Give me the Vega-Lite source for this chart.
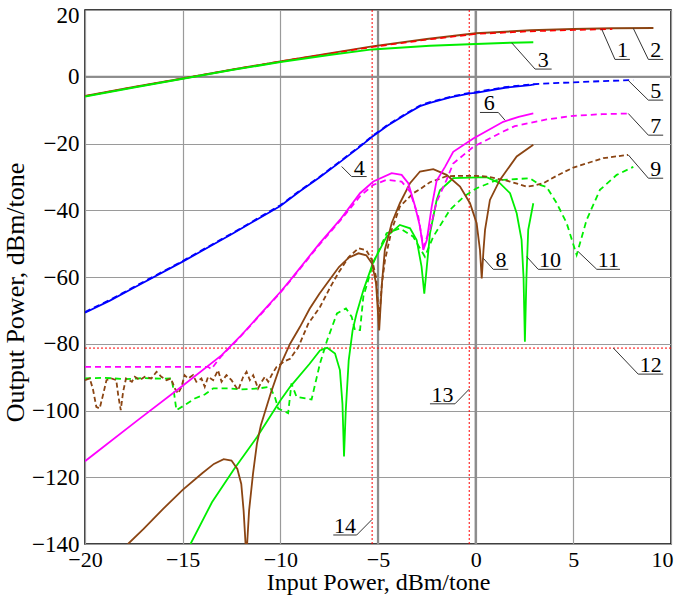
{
"$schema": "https://vega.github.io/schema/vega-lite/v6.json",
"width": 586, "height": 534,
"autosize": "none",
"padding": {"left": 85, "top": 10, "right": 5, "bottom": 53},
"background": "white",
"config": {
  "font": "Liberation Serif",
  "view": {"stroke": "#000", "strokeWidth": 1.5},
  "axis": {"grid": true, "gridColor": "#9a9a9a", "gridWidth": 1.2, "ticks": false, "domain": false, "labelFlush": false, "labelOverlap": false,
    "labelFont": "Liberation Serif", "labelFontSize": 23, "labelColor": "#000",
    "titleFont": "Liberation Serif", "titleFontSize": 24, "titleFontWeight": "normal", "titleColor": "#000"},
  "text": {"font": "Liberation Serif"}
},
"datasets": {
  "curves": [
    {"s":"1","x":-20,"y":-5.8},{"s":"1","x":-17.5,"y":-3.1},{"s":"1","x":-15,"y":-0.5},{"s":"1","x":-12.5,"y":2.1},{"s":"1","x":-10,"y":4.6},{"s":"1","x":-7.5,"y":6.9},{"s":"1","x":-5.3,"y":8.9},{"s":"1","x":-2.5,"y":11.1},{"s":"1","x":0,"y":12.8},{"s":"1","x":2.8,"y":13.6},{"s":"1","x":5,"y":14.0},{"s":"1","x":7,"y":14.3},
    {"s":"2","x":-20,"y":-5.8},{"s":"2","x":-17.5,"y":-3.1},{"s":"2","x":-15,"y":-0.5},{"s":"2","x":-12.5,"y":2.1},{"s":"2","x":-10,"y":4.6},{"s":"2","x":-7.5,"y":7.0},{"s":"2","x":-5.3,"y":9.1},{"s":"2","x":-2.5,"y":11.3},{"s":"2","x":0,"y":13.0},{"s":"2","x":2.8,"y":13.9},{"s":"2","x":5,"y":14.3},{"s":"2","x":7,"y":14.5},{"s":"2","x":9.1,"y":14.6},
    {"s":"3","x":-20,"y":-5.9},{"s":"3","x":-17.5,"y":-3.2},{"s":"3","x":-15,"y":-0.6},{"s":"3","x":-12.5,"y":2.0},{"s":"3","x":-10,"y":4.4},{"s":"3","x":-7.5,"y":6.5},{"s":"3","x":-5.3,"y":8.2},{"s":"3","x":-2.34,"y":9.3},{"s":"3","x":0,"y":9.8},{"s":"3","x":1.84,"y":10.2},{"s":"3","x":2.95,"y":10.3},
    {"s":"4","x":-20,"y":-70.7},{"s":"4","x":-18.7,"y":-67},{"s":"4","x":-17.5,"y":-63.2},{"s":"4","x":-15,"y":-55.4},{"s":"4","x":-12.5,"y":-47.2},{"s":"4","x":-10,"y":-38.7},{"s":"4","x":-9,"y":-34.3},{"s":"4","x":-8,"y":-30.2},{"s":"4","x":-7,"y":-25.8},{"s":"4","x":-6,"y":-21.3},{"s":"4","x":-5.3,"y":-18},{"s":"4","x":-4.5,"y":-14.6},{"s":"4","x":-3.5,"y":-11},{"s":"4","x":-2.85,"y":-8.8},{"s":"4","x":-2.34,"y":-7.8},{"s":"4","x":-1.3,"y":-6.2},{"s":"4","x":-0.29,"y":-5.0},{"s":"4","x":0,"y":-4.8},{"s":"4","x":1.5,"y":-3.3},{"s":"4","x":2.8,"y":-2.5},{"s":"4","x":3,"y":-2.3},
    {"s":"5","x":-20,"y":-70.5},{"s":"5","x":-18.7,"y":-66.8},{"s":"5","x":-17.5,"y":-63},{"s":"5","x":-15,"y":-55.2},{"s":"5","x":-12.5,"y":-47},{"s":"5","x":-10,"y":-38.5},{"s":"5","x":-9,"y":-34.1},{"s":"5","x":-8,"y":-30},{"s":"5","x":-7,"y":-25.6},{"s":"5","x":-6,"y":-21.1},{"s":"5","x":-5.3,"y":-17.8},{"s":"5","x":-4.5,"y":-14.4},{"s":"5","x":-3.5,"y":-10.8},{"s":"5","x":-2.85,"y":-8.6},{"s":"5","x":-2.34,"y":-7.6},{"s":"5","x":-1.3,"y":-6.0},{"s":"5","x":-0.29,"y":-4.8},{"s":"5","x":0,"y":-4.6},{"s":"5","x":1.5,"y":-3.1},{"s":"5","x":2.8,"y":-2.3},{"s":"5","x":4,"y":-1.9},{"s":"5","x":5,"y":-1.7},{"s":"5","x":6.5,"y":-1.3},{"s":"5","x":8.07,"y":-1.0},
    {"s":"6","x":-20,"y":-115.2},{"s":"6","x":-17.28,"y":-102.8},{"s":"6","x":-15,"y":-92.6},{"s":"6","x":-13,"y":-83.4},{"s":"6","x":-12.07,"y":-77.9},{"s":"6","x":-11,"y":-71},{"s":"6","x":-10,"y":-64.5},{"s":"6","x":-9.5,"y":-61},{"s":"6","x":-8,"y":-50},{"s":"6","x":-6.95,"y":-42.9},{"s":"6","x":-5.92,"y":-34.9},{"s":"6","x":-5.24,"y":-31.4},{"s":"6","x":-4.3,"y":-28.9},{"s":"6","x":-3.79,"y":-29.4},{"s":"6","x":-3.45,"y":-31.9},{"s":"6","x":-3.1,"y":-38.9},{"s":"6","x":-2.85,"y":-44.9},{"s":"6","x":-2.68,"y":-51.9},{"s":"6","x":-2.5,"y":-48.9},{"s":"6","x":-2.25,"y":-38.9},{"s":"6","x":-2.0,"y":-31.2},{"s":"6","x":-1.57,"y":-27},{"s":"6","x":-1.15,"y":-22.5},{"s":"6","x":-0.12,"y":-18.5},{"s":"6","x":1.41,"y":-13.5},{"s":"6","x":2.2,"y":-12.0},{"s":"6","x":2.95,"y":-11.0},
    {"s":"7","x":-20,"y":-86.9},{"s":"7","x":-17,"y":-86.9},{"s":"7","x":-13.7,"y":-86.9},{"s":"7","x":-13.53,"y":-87.6},{"s":"7","x":-13.2,"y":-85},{"s":"7","x":-13,"y":-83.6},{"s":"7","x":-12.07,"y":-78},{"s":"7","x":-11,"y":-71.2},{"s":"7","x":-10,"y":-64.7},{"s":"7","x":-9.5,"y":-61.2},{"s":"7","x":-8,"y":-50.3},{"s":"7","x":-6.95,"y":-43.2},{"s":"7","x":-5.92,"y":-35.8},{"s":"7","x":-5.24,"y":-32.4},{"s":"7","x":-4.56,"y":-30.9},{"s":"7","x":-3.79,"y":-31.4},{"s":"7","x":-3.36,"y":-34.4},{"s":"7","x":-2.94,"y":-41.9},{"s":"7","x":-2.68,"y":-50.9},{"s":"7","x":-2.34,"y":-45.9},{"s":"7","x":-2.0,"y":-37.5},{"s":"7","x":-1.49,"y":-30.9},{"s":"7","x":-1.15,"y":-26.0},{"s":"7","x":-0.12,"y":-21.0},{"s":"7","x":1.41,"y":-16.4},{"s":"7","x":2.0,"y":-14.8},{"s":"7","x":3.63,"y":-12.8},{"s":"7","x":5.0,"y":-11.7},{"s":"7","x":6.5,"y":-11.2},{"s":"7","x":7.9,"y":-11.0},
    {"s":"8","x":-17.8,"y":-140},{"s":"8","x":-17,"y":-135.5},{"s":"8","x":-16,"y":-129.5},{"s":"8","x":-15,"y":-123.8},{"s":"8","x":-14,"y":-118.8},{"s":"8","x":-13.4,"y":-116},{"s":"8","x":-12.9,"y":-114.6},{"s":"8","x":-12.5,"y":-115},{"s":"8","x":-12.2,"y":-117.5},{"s":"8","x":-12.0,"y":-122},{"s":"8","x":-11.88,"y":-130},{"s":"8","x":-11.78,"y":-140},{"s":"8","x":-11.7,"y":-140},{"s":"8","x":-11.6,"y":-130},{"s":"8","x":-11.4,"y":-119},{"s":"8","x":-11.2,"y":-110},{"s":"8","x":-11.0,"y":-104.5},{"s":"8","x":-10.5,"y":-95},{"s":"8","x":-10,"y":-86.5},{"s":"8","x":-9.5,"y":-80},{"s":"8","x":-9,"y":-75},{"s":"8","x":-8.5,"y":-69.5},{"s":"8","x":-8,"y":-65},{"s":"8","x":-7.44,"y":-60.5},{"s":"8","x":-7,"y":-57},{"s":"8","x":-6.5,"y":-54.2},{"s":"8","x":-6,"y":-52.9},{"s":"8","x":-5.6,"y":-53.5},{"s":"8","x":-5.3,"y":-56},{"s":"8","x":-5.1,"y":-62},{"s":"8","x":-4.94,"y":-76},{"s":"8","x":-4.8,"y":-62},{"s":"8","x":-4.65,"y":-51.9},{"s":"8","x":-4.3,"y":-43.9},{"s":"8","x":-3.88,"y":-37.9},{"s":"8","x":-3.36,"y":-31.9},{"s":"8","x":-2.85,"y":-28.4},{"s":"8","x":-2.17,"y":-27.7},{"s":"8","x":-1.49,"y":-29.4},{"s":"8","x":-0.8,"y":-32.9},{"s":"8","x":-0.29,"y":-37.9},{"s":"8","x":0.05,"y":-43.9},{"s":"8","x":0.22,"y":-51.9},{"s":"8","x":0.31,"y":-60.4},{"s":"8","x":0.4,"y":-52},{"s":"8","x":0.48,"y":-45.9},{"s":"8","x":0.73,"y":-36.9},{"s":"8","x":1.24,"y":-30.9},{"s":"8","x":2.1,"y":-23.9},{"s":"8","x":2.95,"y":-20.4},
    {"s":"9","x":-20,"y":-90.9},{"s":"9","x":-19.76,"y":-90.4},{"s":"9","x":-19.6,"y":-93.4},{"s":"9","x":-19.42,"y":-98.9},{"s":"9","x":-19.25,"y":-99.4},{"s":"9","x":-19.08,"y":-95.4},{"s":"9","x":-18.9,"y":-90.9},{"s":"9","x":-18.65,"y":-90.4},{"s":"9","x":-18.4,"y":-90.9},{"s":"9","x":-18.3,"y":-95.4},{"s":"9","x":-18.17,"y":-99.9},{"s":"9","x":-18.05,"y":-94.4},{"s":"9","x":-17.9,"y":-90.4},{"s":"9","x":-17.6,"y":-91.4},{"s":"9","x":-17.45,"y":-89.9},{"s":"9","x":-17.2,"y":-90.9},{"s":"9","x":-16.94,"y":-89.9},{"s":"9","x":-16.6,"y":-90.4},{"s":"9","x":-16.34,"y":-88.4},{"s":"9","x":-16.09,"y":-89.9},{"s":"9","x":-15.83,"y":-90.9},{"s":"9","x":-15.6,"y":-90.4},{"s":"9","x":-15.4,"y":-93.4},{"s":"9","x":-15.23,"y":-94.9},{"s":"9","x":-15.06,"y":-92.9},{"s":"9","x":-14.9,"y":-89.4},{"s":"9","x":-14.72,"y":-90.4},{"s":"9","x":-14.47,"y":-89.4},{"s":"9","x":-14.3,"y":-91.4},{"s":"9","x":-14.04,"y":-90.4},{"s":"9","x":-13.87,"y":-92.9},{"s":"9","x":-13.7,"y":-89.9},{"s":"9","x":-13.44,"y":-90.9},{"s":"9","x":-13.19,"y":-87.9},{"s":"9","x":-13.01,"y":-91.4},{"s":"9","x":-12.76,"y":-89.4},{"s":"9","x":-12.5,"y":-90.9},{"s":"9","x":-12.33,"y":-92.4},{"s":"9","x":-12.16,"y":-93.9},{"s":"9","x":-11.9,"y":-89.9},{"s":"9","x":-11.73,"y":-88.4},{"s":"9","x":-11.56,"y":-90.9},{"s":"9","x":-11.39,"y":-89.4},{"s":"9","x":-11.14,"y":-93.4},{"s":"9","x":-10.96,"y":-91.4},{"s":"9","x":-10.79,"y":-89.9},{"s":"9","x":-10.62,"y":-91.4},{"s":"9","x":-10.45,"y":-89.4},{"s":"9","x":-10.2,"y":-87},{"s":"9","x":-9.77,"y":-85.2},{"s":"9","x":-9.5,"y":-84.5},{"s":"9","x":-9.08,"y":-81},{"s":"9","x":-8.57,"y":-74},{"s":"9","x":-7.97,"y":-69},{"s":"9","x":-7.44,"y":-63},{"s":"9","x":-7,"y":-58.5},{"s":"9","x":-6.5,"y":-54},{"s":"9","x":-6.0,"y":-51.4},{"s":"9","x":-5.6,"y":-52},{"s":"9","x":-5.3,"y":-55},{"s":"9","x":-5.1,"y":-60},{"s":"9","x":-4.94,"y":-73},{"s":"9","x":-4.8,"y":-62},{"s":"9","x":-4.64,"y":-54.9},{"s":"9","x":-4.3,"y":-45.9},{"s":"9","x":-3.88,"y":-38.9},{"s":"9","x":-3.2,"y":-34.9},{"s":"9","x":-2.85,"y":-33.7},{"s":"9","x":-2.34,"y":-31.6},{"s":"9","x":-2.0,"y":-30.9},{"s":"9","x":-1.49,"y":-29.8},{"s":"9","x":-0.8,"y":-29.7},{"s":"9","x":0.05,"y":-29.7},{"s":"9","x":0.56,"y":-29.9},{"s":"9","x":1.4,"y":-30.9},{"s":"9","x":1.76,"y":-31.4},{"s":"9","x":2.61,"y":-32.9},{"s":"9","x":3.0,"y":-32.6},{"s":"9","x":3.46,"y":-31.9},{"s":"9","x":4.2,"y":-29.5},{"s":"9","x":5.0,"y":-27.2},{"s":"9","x":6.53,"y":-24.4},{"s":"9","x":7.8,"y":-23.4},
    {"s":"10","x":-14.6,"y":-140},{"s":"10","x":-13.5,"y":-127.5},{"s":"10","x":-12.4,"y":-117.8},{"s":"10","x":-11.2,"y":-108},{"s":"10","x":-10,"y":-97},{"s":"10","x":-9.5,"y":-92.9},{"s":"10","x":-8.5,"y":-86},{"s":"10","x":-7.97,"y":-82},{"s":"10","x":-7.6,"y":-81.2},{"s":"10","x":-7.2,"y":-82.9},{"s":"10","x":-6.95,"y":-87.9},{"s":"10","x":-6.82,"y":-98},{"s":"10","x":-6.74,"y":-113.8},{"s":"10","x":-6.65,"y":-100},{"s":"10","x":-6.5,"y":-85},{"s":"10","x":-6.3,"y":-76},{"s":"10","x":-6.1,"y":-71},{"s":"10","x":-5.75,"y":-64},{"s":"10","x":-5.24,"y":-55.5},{"s":"10","x":-4.56,"y":-47.9},{"s":"10","x":-3.88,"y":-44.4},{"s":"10","x":-3.36,"y":-45.4},{"s":"10","x":-3.02,"y":-48.9},{"s":"10","x":-2.77,"y":-56.9},{"s":"10","x":-2.63,"y":-65},{"s":"10","x":-2.5,"y":-56.9},{"s":"10","x":-2.34,"y":-47},{"s":"10","x":-2.0,"y":-37},{"s":"10","x":-1.83,"y":-34},{"s":"10","x":-1.15,"y":-30.4},{"s":"10","x":0.56,"y":-30.1},{"s":"10","x":1.24,"y":-31.9},{"s":"10","x":1.76,"y":-34.9},{"s":"10","x":2.1,"y":-40.9},{"s":"10","x":2.35,"y":-48.9},{"s":"10","x":2.45,"y":-60},{"s":"10","x":2.52,"y":-79.4},{"s":"10","x":2.6,"y":-60},{"s":"10","x":2.69,"y":-45.9},{"s":"10","x":2.95,"y":-37.9},
    {"s":"11","x":-20,"y":-90.4},{"s":"11","x":-19,"y":-90.2},{"s":"11","x":-18,"y":-90.6},{"s":"11","x":-17,"y":-90.3},{"s":"11","x":-16,"y":-90.5},{"s":"11","x":-15.57,"y":-90.4},{"s":"11","x":-15.45,"y":-94.4},{"s":"11","x":-15.32,"y":-99.9},{"s":"11","x":-14.9,"y":-98.4},{"s":"11","x":-14.38,"y":-96.4},{"s":"11","x":-13.87,"y":-95.2},{"s":"11","x":-13.44,"y":-93.4},{"s":"11","x":-12.6,"y":-93.4},{"s":"11","x":-11.99,"y":-93.7},{"s":"11","x":-11.14,"y":-93.4},{"s":"11","x":-10.54,"y":-92.9},{"s":"11","x":-10.28,"y":-95.9},{"s":"11","x":-10.11,"y":-99.4},{"s":"11","x":-9.6,"y":-100.8},{"s":"11","x":-9.43,"y":-91.9},{"s":"11","x":-9.17,"y":-95.9},{"s":"11","x":-8.4,"y":-96.7},{"s":"11","x":-7.97,"y":-85.9},{"s":"11","x":-7.6,"y":-78.9},{"s":"11","x":-7.1,"y":-70.9},{"s":"11","x":-6.64,"y":-69.4},{"s":"11","x":-6.35,"y":-71.9},{"s":"11","x":-6.18,"y":-75.9},{"s":"11","x":-5.92,"y":-75.9},{"s":"11","x":-5.75,"y":-65.9},{"s":"11","x":-5.5,"y":-60.9},{"s":"11","x":-5.25,"y":-55.9},{"s":"11","x":-4.56,"y":-46.9},{"s":"11","x":-3.88,"y":-45.4},{"s":"11","x":-3.2,"y":-47.9},{"s":"11","x":-2.6,"y":-53.9},{"s":"11","x":-2.17,"y":-47.9},{"s":"11","x":-1.32,"y":-39.9},{"s":"11","x":-0.6,"y":-35.9},{"s":"11","x":0.05,"y":-33.4},{"s":"11","x":1.07,"y":-31},{"s":"11","x":1.41,"y":-30.9},{"s":"11","x":2.27,"y":-30.6},{"s":"11","x":2.78,"y":-30.4},{"s":"11","x":3.29,"y":-32.4},{"s":"11","x":3.63,"y":-33},{"s":"11","x":4.15,"y":-37.9},{"s":"11","x":4.66,"y":-43.9},{"s":"11","x":5.17,"y":-53.4},{"s":"11","x":5.68,"y":-42.9},{"s":"11","x":6.36,"y":-33.9},{"s":"11","x":7.22,"y":-29.4},{"s":"11","x":8.07,"y":-27.0}
  ],
  "vgray": [{"x":-5,"y":-140,"y2":20},{"x":0,"y":-140,"y2":20}],
  "hgray": [{"x":-20,"x2":10,"y":0}],
  "vred": [{"x":-5.3,"y":-140,"y2":20},{"x":-0.33,"y":-140,"y2":20}],
  "hred": [{"x":-20,"x2":10,"y":-81.3}],
  "labels": [
    {"t":"1","x":7.52,"y":5.2},{"t":"2","x":9.22,"y":5.2},{"t":"3","x":3.46,"y":2.3},{"t":"4","x":-5.96,"y":-29.9},
    {"t":"5","x":9.22,"y":-7.0},{"t":"6","x":0.69,"y":-10.7},{"t":"7","x":9.22,"y":-17.5},{"t":"8","x":1.3,"y":-57.7},
    {"t":"9","x":9.22,"y":-30.4},{"t":"10","x":3.8,"y":-57.7},{"t":"11","x":6.79,"y":-57.7},{"t":"12","x":8.96,"y":-89.1},
    {"t":"13","x":-1.7,"y":-98.0},{"t":"14","x":-6.69,"y":-137.3}
  ],
  "unders": [
    {"x":7.13,"x2":7.9,"y":5.2},{"x":8.84,"x2":9.6,"y":5.2},{"x":3.04,"x2":3.89,"y":2.3},{"x":-6.35,"x2":-5.58,"y":-29.9},
    {"x":8.84,"x2":9.6,"y":-7.0},{"x":0.22,"x2":1.16,"y":-10.7},{"x":8.84,"x2":9.6,"y":-17.5},{"x":0.9,"x2":1.67,"y":-57.7},
    {"x":8.84,"x2":9.6,"y":-30.4},{"x":3.2,"x2":4.4,"y":-57.7},{"x":6.2,"x2":7.39,"y":-57.7},{"x":8.32,"x2":9.6,"y":-89.1},
    {"x":-2.34,"x2":-1.06,"y":-98.0},{"x":-7.29,"x2":-6.09,"y":-137.3}
  ],
  "leaders": [
    {"x":7.13,"y":5.2,"x2":6.45,"y2":14.3},{"x":8.84,"y":5.2,"x2":8.07,"y2":14.5},{"x":3.04,"y":2.3,"x2":1.84,"y2":10.2},{"x":-6.35,"y":-29.9,"x2":-6.86,"y2":-26.9},
    {"x":8.84,"y":-7.0,"x2":7.81,"y2":-1.1},{"x":1.16,"y":-10.7,"x2":1.5,"y2":-13.0},{"x":8.84,"y":-17.5,"x2":7.81,"y2":-11.0},{"x":0.9,"y":-57.7,"x2":0.39,"y2":-54.4},
    {"x":8.84,"y":-30.4,"x2":7.81,"y2":-23.4},{"x":3.2,"y":-57.7,"x2":2.61,"y2":-53.9},{"x":6.2,"y":-57.7,"x2":5.25,"y2":-52.4},{"x":8.32,"y":-89.1,"x2":7.05,"y2":-81.3},
    {"x":-1.06,"y":-98.0,"x2":-0.33,"y2":-93.6},{"x":-6.09,"y":-137.3,"x2":-5.33,"y2":-132.8}
  ]
},
"encoding": {
  "x": {"field": "x", "type": "quantitative", "scale": {"domain": [-20, 10], "nice": false, "zero": false},
    "axis": {"values": [-20,-15,-10,-5,0,5,10], "title": "Input Power, dBm/tone", "labelPadding": 5, "titlePadding": 0, "labelFontSize": 22,
      "labelOffset": {"condition": {"test": "datum.value == 10", "value": -9}, "value": 0}}},
  "y": {"field": "y", "type": "quantitative", "scale": {"domain": [-140, 20], "nice": false, "zero": false},
    "axis": {"values": [-140,-120,-100,-80,-60,-40,-20,0,20], "title": "Output Power, dBm/tone", "labelPadding": 6, "titlePadding": 3,
      "titleFontSize": 26, "titleY": 282,
      "labelOffset": {"condition": {"test": "datum.value == 20", "value": 5}, "value": 0}}}
},
"layer": [
  {"data": {"name": "vgray"}, "mark": {"type": "rule", "color": "#8c8c8c", "strokeWidth": 2.2}, "encoding": {"y2": {"field": "y2"}}},
  {"data": {"name": "hgray"}, "mark": {"type": "rule", "color": "#8c8c8c", "strokeWidth": 2.2}, "encoding": {"x2": {"field": "x2"}}},
  {"data": {"name": "vred"}, "mark": {"type": "rule", "color": "#ff0000", "strokeWidth": 1, "strokeDash": [2, 2]}, "encoding": {"y2": {"field": "y2"}}},
  {"data": {"name": "hred"}, "mark": {"type": "rule", "color": "#ff0000", "strokeWidth": 1, "strokeDash": [2, 2]}, "encoding": {"x2": {"field": "x2"}}},
  {"data": {"name": "curves"}, "transform": [{"filter": "datum.s == '11'"}], "mark": {"type": "line", "color": "#00ee00", "strokeWidth": 1.8, "strokeDash": [6, 4], "clip": true}},
  {"data": {"name": "curves"}, "transform": [{"filter": "datum.s == '10'"}], "mark": {"type": "line", "color": "#00ee00", "strokeWidth": 1.8, "clip": true}},
  {"data": {"name": "curves"}, "transform": [{"filter": "datum.s == '9'"}], "mark": {"type": "line", "color": "#8b4513", "strokeWidth": 1.8, "strokeDash": [5, 3], "clip": true}},
  {"data": {"name": "curves"}, "transform": [{"filter": "datum.s == '8'"}], "mark": {"type": "line", "color": "#8b4513", "strokeWidth": 1.8, "clip": true}},
  {"data": {"name": "curves"}, "transform": [{"filter": "datum.s == '7'"}], "mark": {"type": "line", "color": "#ff00ff", "strokeWidth": 1.8, "strokeDash": [6, 4], "clip": true}},
  {"data": {"name": "curves"}, "transform": [{"filter": "datum.s == '6'"}], "mark": {"type": "line", "color": "#ff00ff", "strokeWidth": 1.8, "clip": true}},
  {"data": {"name": "curves"}, "transform": [{"filter": "datum.s == '5'"}], "mark": {"type": "line", "color": "#0000ff", "strokeWidth": 1.8, "strokeDash": [6, 4], "clip": true}},
  {"data": {"name": "curves"}, "transform": [{"filter": "datum.s == '4'"}], "mark": {"type": "line", "color": "#0000ff", "strokeWidth": 1.8, "clip": true}},
  {"data": {"name": "curves"}, "transform": [{"filter": "datum.s == '2'"}], "mark": {"type": "line", "color": "#8b4513", "strokeWidth": 2, "clip": true}},
  {"data": {"name": "curves"}, "transform": [{"filter": "datum.s == '1'"}], "mark": {"type": "line", "color": "#ff0000", "strokeWidth": 1.6, "strokeDash": [6, 4], "clip": true}},
  {"data": {"name": "curves"}, "transform": [{"filter": "datum.s == '3'"}], "mark": {"type": "line", "color": "#00ee00", "strokeWidth": 2, "clip": true}},
  {"data": {"name": "leaders"}, "mark": {"type": "rule", "color": "#333", "strokeWidth": 1}, "encoding": {"x2": {"field": "x2"}, "y2": {"field": "y2"}}},
  {"data": {"name": "unders"}, "mark": {"type": "rule", "color": "#333", "strokeWidth": 1}, "encoding": {"x2": {"field": "x2"}}},
  {"data": {"name": "labels"}, "mark": {"type": "text", "font": "Liberation Serif", "fontSize": 22, "color": "#000", "align": "center", "baseline": "alphabetic", "dy": -2}, "encoding": {"text": {"field": "t"}}}
]
}
